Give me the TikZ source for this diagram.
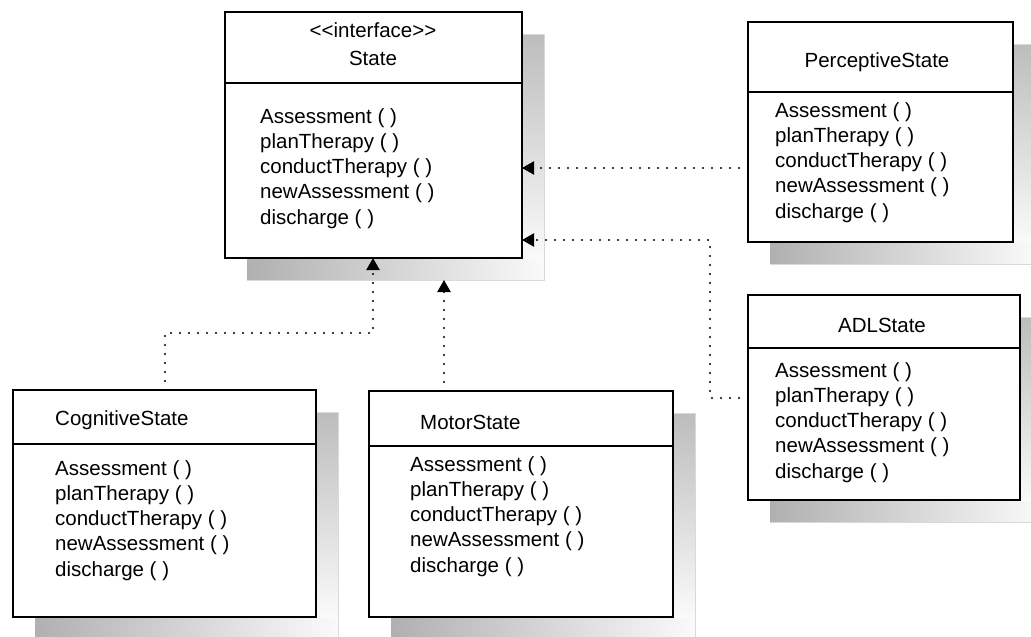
\documentclass[tikz,border=0pt]{standalone}
\usepackage{fontspec}
\setmainfont{Liberation Sans}
\usetikzlibrary{arrows.meta}

% class box with a soft drop shadow and a divider under the name compartment
% #1 name, #2 x1, #3 y1, #4 x2, #5 y2, #6 divider y
\newcommand\umlbox[6]{%
  \shade[left color=gray!62,right color=gray!4] (#2+22,#5) rectangle (#4+22,#5+22);
  \shade[top color=gray!52,bottom color=gray!4] (#4,#3+22) rectangle (#4+22,#5);
  \draw[shadowedge] (#4,#3+22) -- (#4+22,#3+22) -- (#4+22,#5+22) -- (#2+22,#5+22);
  \node[box, minimum width=#4-#2, minimum height=#5-#3] (#1) at (#2,#3) {};
  \draw[rule] (#1.west |- 0,#6) -- (#1.east |- 0,#6);
}
% operation list: #1 name prefix, #2 left x, #3 first baseline
\newcommand\umlops[3]{%
  \foreach \t [count=\i from 0] in {{Assessment ( )},{planTherapy ( )},{conductTherapy ( )},{newAssessment ( )},{discharge ( )}}
    \node[txt] (#1op\i) at (#2,#3+\i*25.3) {\t};
}

\begin{document}
\begin{tikzpicture}[x=1pt,y=-1pt,
  box/.style={draw=black,line width=1.8pt,fill=white,rectangle,inner sep=0pt,outer sep=0pt,anchor=north west},
  rule/.style={line width=1.8pt},
  shadowedge/.style={draw=gray!30,line width=0.8pt},
  txt/.style={font=\fontsize{20.5}{25}\selectfont,inner sep=0pt,anchor=base west},
  ttl/.style={txt,anchor=base},
  dep/.style={line width=2.1pt,line cap=round,dash pattern=on 0pt off 9pt,
              -{Triangle[length=12pt,width=13pt]}}]
\useasboundingbox (0,0) rectangle (1031,637);

% classes
\umlbox{state}{225}{12}{522}{258}{83}
\umlbox{perc}{748}{22}{1013}{242}{92}
\umlbox{adl}{748}{295}{1020}{500}{348}
\umlbox{cog}{13}{390}{316}{617}{444}
\umlbox{motor}{369}{391}{673}{617}{446}

% names
\node[ttl] (stereo) at (373,37) {{<}{<}interface{>}{>}};
\node[ttl] (statename) at (373,65) {State};
\node[ttl] (percname) at (877,67) {PerceptiveState};
\node[ttl] (adlname) at (882,332) {ADLState};
\node[txt] (cogname) at (55,425) {CognitiveState};
\node[txt] (motorname) at (420,429) {MotorState};

% operations
\umlops{state}{260}{123}
\umlops{perc}{775}{117}
\umlops{adl}{775}{377}
\umlops{cog}{55}{475}
\umlops{motor}{410}{471}

% realisation connectors
\coordinate (adlbend) at (710,240);
\coordinate (cogbend) at (373,333);
\coordinate (stateshadow) at (444,280);
\draw[dep] (perc.west |- 0,168) -- (state.east |- 0,168);
\draw[dep] (adl.west |- 0,398) -| (adlbend) -- (state.east |- adlbend);
\draw[dep] (cog.north -| 165,0) |- (cogbend) -- (state.south -| cogbend);
\draw[dep] (motor.north -| stateshadow) -- (stateshadow);
\end{tikzpicture}
\end{document}
